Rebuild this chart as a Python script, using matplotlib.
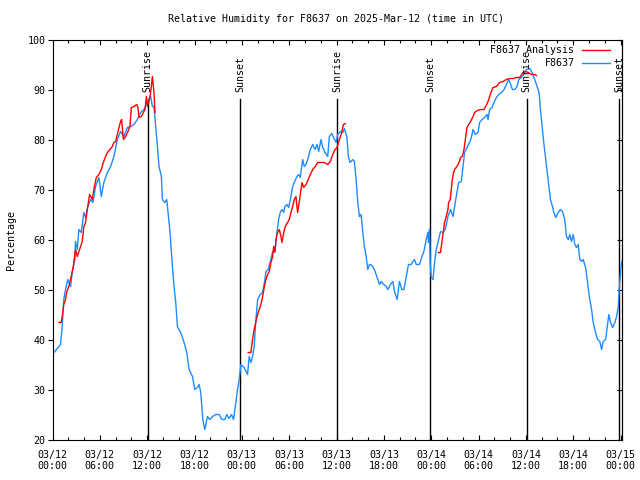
import numpy as np
import matplotlib
matplotlib.use("Agg")
import matplotlib.pyplot as plt
from matplotlib.ticker import MultipleLocator

plt.rcParams['font.family'] = ['DejaVu Sans Mono']
FS = 7.2

# ---- data: hours since 2025-03-12 00:00 UTC, relative humidity (%) ----
obs_hours = [0.0, 0.17, 0.80, 1.02, 1.23, 1.43, 1.65, 1.94, 2.29, 2.50, 2.83, 2.92, 3.14, 3.34, 3.64,
             3.97, 4.19, 4.48, 4.83, 5.12, 5.46, 5.88, 6.18, 6.51, 6.95, 7.37, 7.78, 8.22, 8.63,
             9.05, 9.49, 9.90, 10.32, 10.76, 11.17, 11.59, 12.03, 12.32, 12.44, 12.66, 12.86,
             13.08, 13.30, 13.50, 13.80, 13.93, 14.22, 14.48, 14.64, 14.90, 15.07, 15.24, 15.40,
             15.62, 15.83, 16.25, 16.67, 17.02, 17.31, 17.74, 18.03, 18.37, 18.58, 18.79, 18.92,
             19.05, 19.30, 19.64, 19.94, 20.28, 20.70, 21.12, 21.46, 21.84, 22.10, 22.39, 22.69,
             22.95, 23.24, 23.45, 23.66, 23.87, 24.29, 24.72, 24.93, 25.14, 25.36, 25.56, 25.78,
             26.00, 26.32, 26.63, 26.92, 27.05, 27.34, 27.68, 27.90, 28.19, 28.44, 28.66, 28.86,
             29.08, 29.30, 29.46, 29.71, 29.93, 30.22, 30.44, 30.64, 30.98, 31.20, 31.40, 31.71,
             31.91, 32.13, 32.42, 32.67, 32.98, 33.27, 33.52, 33.74, 34.03, 34.25, 34.54, 34.88,
             35.09, 35.39, 35.64, 35.94, 36.15, 36.48, 36.79, 36.99, 37.30, 37.50, 37.71, 38.06,
             38.26, 38.48, 38.69, 38.90, 39.11, 39.33, 39.53, 39.75, 39.96, 40.17, 40.29, 40.60,
             40.89, 41.23, 41.44, 41.65, 41.99, 42.29, 42.50, 42.83, 43.14, 43.34, 43.68, 43.97,
             44.28, 44.53, 44.83, 45.12, 45.46, 45.68, 45.88, 46.10, 46.51, 46.82, 47.07, 47.37,
             47.58, 47.66, 47.78, 47.87, 48.00, 48.22, 48.42, 48.63, 48.93, 49.18, 49.49, 49.78,
             50.12, 50.45, 50.76, 50.96, 51.17, 51.47, 51.81, 52.03, 52.23, 52.53, 52.86, 53.08,
             53.30, 53.59, 53.93, 54.13, 54.44, 54.77, 55.07, 55.20, 55.40, 55.71, 55.96, 56.25,
             56.55, 56.89, 57.23, 57.52, 57.82, 58.07, 58.29, 58.58, 58.88, 59.09, 59.43, 59.72,
             60.06, 60.48, 60.79, 61.12, 61.33, 61.42, 61.67, 61.84, 62.06, 62.26, 62.51, 62.69,
             62.90, 63.11, 63.37, 63.53, 63.78, 64.09, 64.38, 64.63, 64.93, 65.14, 65.36, 65.56,
             65.78, 65.99, 66.20, 66.41, 66.63, 66.83, 67.05, 67.26, 67.56, 67.77, 68.03, 68.32,
             68.53, 68.83, 69.08, 69.37, 69.59, 69.80, 70.10, 70.31, 70.51, 70.73, 70.98, 71.28,
             71.49, 71.71, 71.84, 72.00, 72.13, 72.25]
obs_rh = [37.0, 37.4, 38.6, 39.0, 42.6, 48.0, 50.0, 52.0, 50.6, 53.4, 56.0, 59.6, 58.0, 62.0, 61.4,
          65.4, 64.4, 66.6, 68.0, 67.4, 70.6, 72.4, 68.6, 71.4, 73.4, 74.6, 76.6, 80.0, 81.6,
          80.6, 82.4, 82.6, 83.0, 84.0, 85.4, 86.0, 87.4, 88.4, 88.6, 86.6, 86.6,
          82.6, 78.6, 74.6, 72.6, 68.0, 67.4, 68.0, 65.4, 61.4, 57.4, 54.0, 50.6,
          47.4, 42.6, 41.4, 39.4, 37.4, 34.0, 32.6, 30.0, 30.4, 31.0, 29.4, 26.6,
          24.0, 22.0, 24.6, 24.0, 24.6, 25.0, 25.0, 24.0, 24.0, 25.0, 24.2, 25.0,
          24.0, 27.4, 30.0, 32.0, 35.0, 34.4, 33.0, 36.6, 35.4, 36.6, 38.6, 44.0,
          48.0, 49.0, 49.4, 52.0, 53.6, 54.0, 56.0, 57.6, 57.4, 61.4, 64.0, 65.4,
          66.0, 65.4, 66.6, 67.0, 66.4, 68.6, 70.6, 71.4, 72.6, 73.0, 72.4, 76.0,
          74.6, 75.0, 76.4, 78.0, 79.0, 78.0, 79.0, 77.6, 80.0, 78.4, 77.4, 76.6,
          80.6, 81.2, 80.4, 79.4, 81.0, 81.6, 81.4, 82.2, 80.6, 76.6, 75.4, 76.0,
          75.6, 72.0, 67.4, 64.6, 65.0, 61.4, 58.6, 56.6, 54.0, 55.0, 55.0, 54.6,
          53.6, 52.0, 51.0, 51.6, 51.0, 50.6, 50.0, 51.0, 51.6, 49.6, 48.0, 51.6,
          50.0, 50.0, 52.6, 55.0, 55.0, 55.6, 56.0, 55.0, 55.0, 56.6, 57.6, 60.0,
          61.4, 59.4, 62.0, 55.4, 52.4, 52.0, 55.4, 58.0, 60.0, 61.6, 61.4, 62.0,
          64.6, 66.0, 64.6, 66.6, 68.6, 71.4, 71.6, 74.6, 77.4, 78.4, 79.4, 80.4,
          82.0, 81.0, 81.4, 83.4, 84.0, 84.4, 85.0, 84.0, 86.0, 86.4, 87.4, 88.4,
          89.0, 89.4, 90.0, 91.0, 92.0, 91.0, 90.0, 90.0, 90.6, 92.0, 92.4, 93.0,
          94.0, 94.2, 93.4, 92.0, 91.0, 90.6, 89.4, 86.0, 82.6, 79.4, 76.0, 73.4,
          70.6, 68.0, 66.6, 65.4, 64.4, 65.4, 66.0, 65.6, 64.0, 60.6, 60.0, 61.0,
          59.6, 61.0, 59.0, 58.4, 59.0, 56.0, 55.6, 56.0, 54.4, 52.0, 48.6, 46.0,
          43.4, 41.4, 40.0, 39.6, 38.0, 39.6, 40.0, 42.6, 45.0, 43.4, 42.4, 43.4,
          44.6, 46.6, 50.6, 53.4, 55.4, 56.0]

ana1_hours = [0.80, 1.10, 1.23, 1.43, 1.65, 1.78, 2.07, 2.37, 2.63, 2.92, 3.14, 3.43, 3.77, 3.97,
              4.19, 4.41, 4.70, 5.04, 5.24, 5.55, 5.88, 6.18, 6.44, 6.73, 6.95, 7.28, 7.58, 7.78,
              8.00, 8.22, 8.42, 8.63, 8.76, 8.98, 9.27, 9.56, 9.82, 9.99, 10.32, 10.67, 10.83,
              10.96, 11.26, 11.52, 11.72, 11.90, 12.03, 12.28, 12.44, 12.66, 12.86, 12.99]
ana1_rh = [43.4, 43.4, 44.6, 47.0, 48.0, 49.4, 50.6, 52.6, 54.6, 58.0, 56.6, 58.0, 59.6, 62.6,
           63.4, 66.0, 69.0, 68.0, 70.0, 72.4, 73.0, 74.0, 75.4, 76.6, 77.4, 78.0, 78.6, 79.4,
           79.6, 81.0, 82.4, 83.6, 84.0, 80.0, 80.6, 81.6, 82.6, 86.4, 86.6, 87.0, 86.4,
           84.4, 84.6, 85.4, 86.0, 88.6, 86.6, 88.0, 89.4, 92.6, 89.4, 85.4]
ana2_hours = [24.80, 25.14, 25.36, 25.56, 25.78, 26.07, 26.41, 26.63, 26.83, 27.05, 27.26, 27.47,
              27.68, 27.90, 28.03, 28.19, 28.32, 28.53, 28.74, 28.95, 29.08, 29.30, 29.50, 29.80,
              30.01, 30.22, 30.44, 30.64, 30.86, 30.98, 31.07, 31.28, 31.49, 31.62, 31.83, 32.13,
              32.42, 32.67, 32.98, 33.31, 33.61, 34.03, 34.45, 34.88, 35.21, 35.52, 35.81, 36.06,
              36.36, 36.66, 36.86, 37.12]
ana2_rh = [37.4, 37.4, 40.0, 42.0, 43.6, 45.4, 47.0, 48.6, 50.4, 52.0, 53.0, 53.6,
           55.4, 56.6, 58.6, 57.6, 60.0, 61.4, 62.0, 60.6, 59.4, 61.4, 62.6, 63.4,
           64.0, 65.4, 66.6, 68.0, 68.6, 66.6, 65.4, 67.6, 70.0, 71.4, 70.4, 71.0,
           72.0, 73.0, 74.0, 74.6, 75.4, 75.4, 75.4, 75.0, 75.6, 77.0, 78.0, 78.4,
           80.0, 81.4, 83.0, 83.2]
ana3_hours = [48.93, 49.18, 49.36, 49.52, 49.69, 49.90, 50.12, 50.20, 50.41, 50.54, 50.67, 50.83,
              50.96, 51.26, 51.52, 51.72, 51.94, 52.15, 52.36, 52.53, 52.74, 52.99, 53.30, 53.50,
              53.84, 54.26, 54.69, 54.90, 55.20, 55.40, 55.62, 55.83, 56.25, 56.67, 57.10, 57.52,
              57.94, 58.38, 58.79, 59.21, 59.64, 59.94, 60.28, 60.70, 61.12, 61.33]
ana3_rh = [57.4, 57.4, 59.6, 61.4, 63.4, 64.6, 66.0, 67.4, 68.0, 70.0, 72.0, 73.4,
           74.0, 74.6, 75.4, 76.4, 76.6, 78.0, 80.4, 82.4, 83.0, 83.6, 84.6, 85.4,
           85.8, 86.0, 86.0, 86.6, 87.6, 88.6, 89.6, 90.4, 90.6, 91.4, 91.6, 92.0,
           92.2, 92.2, 92.4, 92.4, 93.4, 93.6, 93.4, 93.0, 93.0, 92.8]

sunrise_hours = [12.08, 36.12, 60.10]
sunset_hours = [23.80, 47.90, 71.85]

xtick_hours = [0, 6, 12, 18, 24, 30, 36, 42, 48, 54, 60, 66, 72]
xtick_labels = ["03/12\n00:00", "03/12\n06:00", "03/12\n12:00", "03/12\n18:00",
                "03/13\n00:00", "03/13\n06:00", "03/13\n12:00", "03/13\n18:00",
                "03/14\n00:00", "03/14\n06:00", "03/14\n12:00", "03/14\n18:00",
                "03/15\n00:00"]
ytick_values = [20, 30, 40, 50, 60, 70, 80, 90, 100]

title = "Relative Humidity for F8637 on 2025-Mar-12 (time in UTC)"
ana_label = "F8637 Analysis"
obs_label = "F8637"
RED = "#ff0000"
BLUE = "#1e8cff"

fig = plt.figure(figsize=(6.4, 4.8), dpi=100)
L, R, T, B = 52.5, 621.7, 39.5, 439.5
ax = fig.add_axes([L / 640, 1 - B / 480, (R - L) / 640, (B - T) / 480])

# analysis segments (gaps between)
ana_h = ana1_hours + [np.nan] + ana2_hours + [np.nan] + ana3_hours
ana_v = ana1_rh + [np.nan] + ana2_rh + [np.nan] + ana3_rh
ax.plot(ana_h, ana_v, color=RED, lw=1.0, label=ana_label, zorder=3)
ax.plot(obs_hours, obs_rh, color=BLUE, lw=1.0, label=obs_label, zorder=2)

for h in sunrise_hours:
    ax.plot([h, h], [20, 88.2], color='black', lw=1.0, zorder=1)
    ax.text(h, 89.6, "Sunrise", rotation=90, ha='center', va='bottom', fontsize=FS, clip_on=False)
for h in sunset_hours:
    ax.plot([h, h], [20, 88.2], color='black', lw=1.0, zorder=1)
    ax.text(h, 89.6, "Sunset", rotation=90, ha='center', va='bottom', fontsize=FS, clip_on=False)

ax.set_xlim(0, 72.14)
ax.set_ylim(20, 100)
ax.set_xticks(xtick_hours)
ax.set_xticklabels(xtick_labels, fontsize=FS, linespacing=1.1)
ax.xaxis.set_minor_locator(MultipleLocator(2))
ax.set_yticks(ytick_values)
ax.set_yticklabels([str(v) for v in ytick_values], fontsize=FS)
ax.tick_params(axis='x', which='major', direction='in', length=3.5, width=0.8, top=True, pad=7.5)
ax.tick_params(axis='x', which='minor', direction='in', length=2.5, width=0.8, top=True)
ax.tick_params(axis='y', which='major', direction='out', length=3.6, width=0.8, right=False, pad=1.5)
sec = ax.secondary_yaxis('right')
sec.set_yticks(ytick_values)
sec.set_yticklabels([])
sec.tick_params(direction='in', length=3.6, width=0.8)
for s in list(ax.spines.values()) + list(sec.spines.values()):
    s.set_linewidth(0.8)

fig.text(336 / 640, 1 - 19.5 / 480, title, ha='center', va='center', fontsize=FS)
fig.text(11 / 640, 0.5, "Percentage", rotation=90, ha='center', va='center', fontsize=FS)

leg = ax.legend(loc='upper right', bbox_to_anchor=((610 - L) / (R - L), 1 - 5.5 / 400),
                frameon=False, markerfirst=False, fontsize=FS, handlelength=2.8,
                handletextpad=0.75, labelspacing=0.32, borderpad=0, borderaxespad=0)
for t in leg.get_texts():
    t.set_ha('right')

fig.savefig("out.png", dpi=100)
